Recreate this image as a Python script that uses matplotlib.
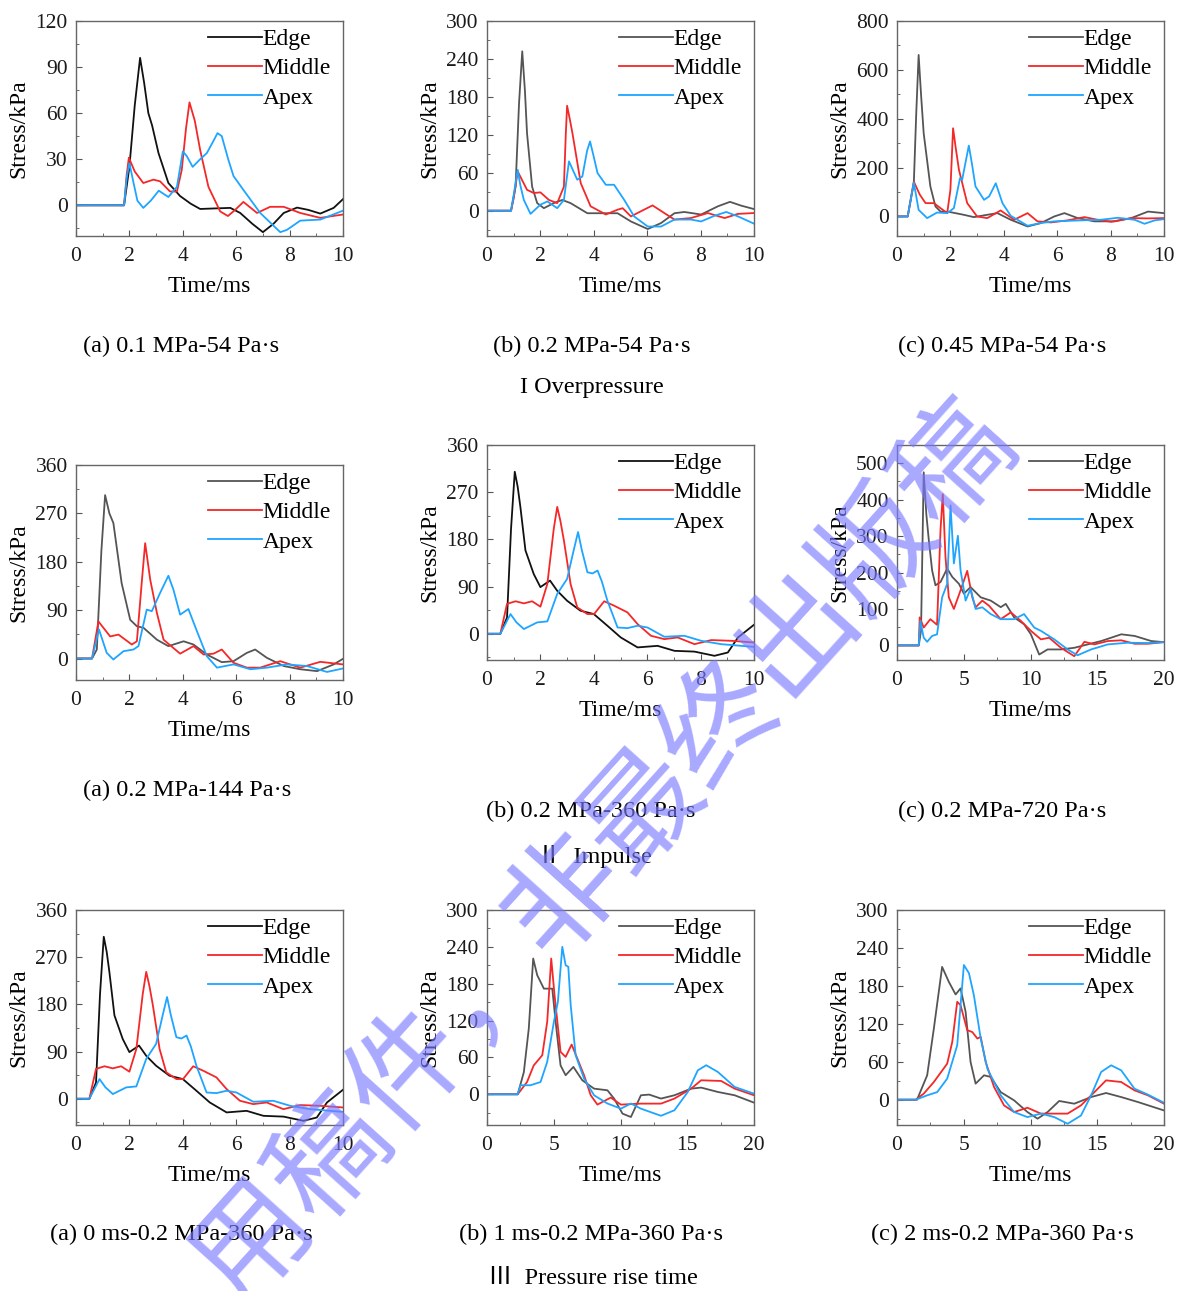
import matplotlib
matplotlib.use("Agg")
import matplotlib.pyplot as plt
from matplotlib.ticker import MultipleLocator

plt.rcParams['font.family'] = ['Liberation Serif', 'Noto Sans CJK SC', 'DejaVu Sans']

labels = ["Edge", "Middle", "Apex"]

# (time ms, stress kPa)
p1_edge = [(0,0),(1.8,0),(2.0,25),(2.2,65),(2.4,96),(2.55,80),(2.71,60),(2.85,52),(3.09,34),(3.46,14.5),(3.9,6),(4.3,1),(4.65,-2.4),(5.27,-2),(5.78,-1.7),(6.15,-5),(6.6,-12),(7.0,-17.5),(7.4,-12),(7.78,-5),(8.28,-1.5),(8.7,-3),(9.15,-5.4),(9.65,-1.7),(10,4)]
p1_middle = [(0,0),(1.8,0),(1.9,20),(1.98,31),(2.2,22),(2.52,14.5),(2.9,16.7),(3.15,15.6),(3.52,9),(3.78,9),(3.96,23),(4.12,50),(4.25,67),(4.45,55),(4.65,36),(4.96,12),(5.4,-4),(5.69,-7),(5.96,-3),(6.27,2.2),(6.78,-5),(7.27,-1),(7.78,-1),(8.4,-5),(9.15,-8.2),(10,-6)]
p1_apex = [(0,0),(1.8,0),(1.9,18),(2.0,27.5),(2.15,15),(2.3,3),(2.52,-1.7),(2.8,3),(3.1,9.5),(3.46,5.4),(3.78,12),(4.0,35),(4.15,32),(4.37,25),(4.65,30),(4.9,34),(5.15,42),(5.3,47),(5.46,45),(5.7,30),(5.9,19),(6.27,10),(6.9,-5),(7.65,-17.5),(7.9,-16),(8.4,-10),(9.15,-9.3),(10,-3.5)]

p2_edge = [(0,0),(0.9,0),(1.07,38),(1.2,170),(1.32,252),(1.42,190),(1.5,122),(1.69,38),(1.88,12),(2.13,4),(2.5,12),(2.82,17),(3.13,12),(3.76,-4),(4.51,-4),(4.89,-4),(5.39,-17),(6.02,-29),(6.52,-19.5),(7.02,-4),(7.39,-2),(8.02,-6),(8.65,7),(9.1,14),(9.52,8),(10,2.6)]
p2_middle = [(0,0),(0.9,0),(1.0,20),(1.15,62),(1.5,33),(1.75,28),(2.0,29),(2.32,17),(2.63,12),(2.88,38),(2.95,120),(3.0,166),(3.1,145),(3.2,122.6),(3.51,43.7),(3.88,7),(4.45,-6),(4.89,1.6),(5.08,4),(5.39,-9),(5.76,-1),(6.2,8.4),(6.64,-3.7),(7.02,-14),(7.64,-11.6),(8.27,-3.7),(8.9,-11.6),(9.4,-5),(10,-3.7)]
p2_apex = [(0,0),(0.9,0),(1.0,25),(1.15,64.7),(1.25,40),(1.38,17),(1.63,-5),(2.0,9.5),(2.26,14.7),(2.63,4),(2.88,17),(3.07,78),(3.38,49),(3.57,54),(3.75,95),(3.86,109.5),(4.0,85),(4.14,59.5),(4.45,41),(4.76,41),(5.14,17),(5.51,-9),(6.02,-25),(6.52,-25),(7.02,-14),(7.64,-14),(8.02,-17),(8.52,-8),(8.96,-2),(9.4,-9),(10,-20.5)]

p3_edge = [(0,0),(0.4,0),(0.63,136),(0.72,420),(0.81,661),(0.9,500),(1.0,340),(1.25,122.6),(1.44,41),(1.63,20),(2.0,17.7),(2.5,6.8),(2.88,-2.7),(3.38,6.8),(3.76,13.6),(4.26,-13.6),(4.89,-41),(5.39,-27),(5.89,0),(6.27,13.6),(6.77,-6.8),(7.39,-20),(8.15,-20),(8.77,-6.8),(9.4,20),(10,13.6)]
p3_middle = [(0,0),(0.4,0),(0.63,143),(0.85,90),(1.07,54.5),(1.38,54.5),(1.63,34),(1.88,13.6),(2.0,109),(2.1,361),(2.2,280),(2.32,191),(2.63,54.5),(3.0,0),(3.38,-6.8),(3.88,24.5),(4.39,-13.6),(4.89,13.6),(5.26,-20),(5.76,-24.5),(6.39,-16),(7.02,-2.7),(7.52,-13.6),(8.02,-21.8),(8.77,-6.8),(9.4,-8),(10,-6.8)]
p3_apex = [(0,0),(0.4,0),(0.63,139),(0.81,27),(1.13,-6.8),(1.5,16),(1.88,13.6),(2.13,34),(2.36,156.7),(2.44,150),(2.69,290),(2.8,220),(2.94,122.6),(3.26,68),(3.45,82),(3.7,136),(3.95,54.5),(4.26,2.7),(4.89,-38),(5.39,-27),(5.89,-20),(6.89,-16),(7.64,-13.6),(8.27,-5.4),(8.9,-13.6),(9.27,-30),(9.65,-16),(10,-11)]

p4_edge = [(0,0),(0.6,0),(0.78,16.7),(0.95,200),(1.09,304),(1.25,270),(1.4,252),(1.71,140),(2.03,72),(2.28,60),(2.53,57),(3.03,35),(3.46,23),(4.03,32),(4.4,26),(4.9,7.4),(5.46,-6.8),(5.9,-5),(6.4,10.5),(6.71,16.7),(7.15,1.2),(7.78,-14),(8.4,-20),(9.03,-23.5),(9.65,-11),(10,-0.6)]
p4_middle = [(0,0),(0.6,0),(0.84,69),(1.28,41),(1.59,44.5),(2.09,26),(2.28,32),(2.46,140),(2.59,214.6),(2.78,146.6),(3.03,84.7),(3.28,35),(3.9,9),(4.4,23),(4.78,7.4),(5.15,9),(5.46,16.7),(5.9,-8),(6.4,-17),(6.9,-17),(7.65,-5),(8.4,-17),(9.15,-6.2),(10,-11)]
p4_apex = [(0,0),(0.6,0),(0.86,54),(1.15,10.5),(1.4,-1.9),(1.78,13.6),(2.15,16.7),(2.34,23),(2.65,91),(2.84,88),(3.15,122),(3.46,154),(3.65,128),(3.9,81.6),(4.21,92),(4.53,50.7),(4.9,4.3),(5.28,-17),(5.9,-11),(6.53,-20),(7.15,-17),(7.9,-11),(8.65,-14),(9.4,-25),(10,-18.5)]

# 0.2 MPa-360 Pa·s, shown twice (II b and III a)
p5_edge = [(0,0),(0.5,0),(0.75,31),(0.9,200),(1.04,309),(1.15,280),(1.25,242),(1.44,159),(1.75,114),(2.0,89),(2.36,101.5),(2.63,82),(3.0,63),(3.5,44),(4.0,37.6),(4.51,15.3),(5.01,-7),(5.64,-26),(6.39,-23),(7.02,-32.5),(7.77,-34),(8.52,-42),(9.02,-35.7),(9.4,-7),(10,17.2)]
p5_middle = [(0,0),(0.5,0),(0.75,57),(1.07,62),(1.38,58),(1.69,62),(2.0,51.7),(2.26,95),(2.5,200),(2.63,242),(2.75,215),(2.88,178),(3.13,95),(3.38,50.4),(3.76,37.6),(4.01,37.6),(4.39,62),(4.76,53.6),(5.26,40.8),(5.64,18.5),(6.14,-3.8),(6.64,-10.2),(7.14,-7),(7.77,-19.8),(8.4,-12),(9.15,-13.4),(10,-16.6)]
p5_apex = [(0,0),(0.5,0),(0.88,37.6),(1.1,22),(1.38,9),(1.88,21.7),(2.26,23.6),(2.63,76),(3.0,104.7),(3.25,160),(3.41,194),(3.55,160),(3.76,117.4),(3.95,115),(4.14,120.6),(4.3,100),(4.51,63),(4.89,12),(5.26,10.8),(5.64,15.3),(6.01,12),(6.64,-5.7),(7.39,-3.8),(8.02,-13.4),(8.77,-19.8),(10,-25)]

p6_edge = [(0,0),(1.63,0),(1.8,40),(2.0,475),(2.2,359),(2.38,290),(2.63,206),(2.88,165),(3.26,174),(3.76,211),(4.14,188),(4.64,169),(5.01,142),(5.51,160),(6.27,132),(7.02,123),(7.77,105),(8.15,114),(8.77,77),(9.52,58),(10.03,30.5),(10.65,-25),(11.28,-11),(12.28,-11),(13.28,-6.5),(14.29,2.8),(15.29,12),(16.8,30.5),(17.8,26),(19.05,12),(20,9)]
p6_middle = [(0,0),(1.63,0),(1.7,77),(2.0,49),(2.5,72),(3.0,56.5),(3.26,317.6),(3.43,415),(3.63,243.5),(3.88,132),(4.26,100),(4.76,151),(5.26,204.6),(5.64,132),(5.89,104.6),(6.39,123),(6.89,109),(7.77,72),(8.52,90.7),(9.27,67.6),(10.03,40),(10.78,16.7),(11.4,21),(12.28,-6.5),(13.28,-29.6),(14.04,10),(14.79,2.8),(15.79,12),(16.8,14),(17.8,4.6),(18.8,4.6),(20,9)]
p6_apex = [(0,0),(1.63,0),(1.75,67.6),(2.0,21.3),(2.26,10),(2.63,26),(3.0,30.5),(3.38,132),(3.76,169),(4.01,384),(4.26,225),(4.56,301),(4.76,206.5),(5.14,123),(5.51,155.5),(5.89,100),(6.39,104.6),(7.02,86),(7.77,72),(8.77,72),(9.52,86),(10.28,49),(10.78,40),(11.78,16.7),(12.78,-11),(13.53,-27),(14.54,-11),(15.79,2.8),(17.29,7.4),(18.8,6.5),(20,9)]

p8_edge = [(0,0),(2.3,0),(2.76,36),(3.13,107),(3.46,221),(3.76,194),(4.26,172),(4.89,172),(5.14,118),(5.51,47),(5.89,31),(6.47,44.6),(7.14,22.8),(8.02,9.2),(9.02,6.5),(9.52,-7),(10.15,-31.5),(10.78,-37),(11.53,-1.6),(12.15,-0.5),(13.03,-7),(14.04,-1.6),(15.29,9.2),(16.04,10.9),(17.29,3.8),(18.55,-1.6),(20,-13.6)]
p8_middle = [(0,0),(2.3,0),(3.0,20),(3.5,47),(4.14,63.6),(4.51,118),(4.81,221),(5.06,161.4),(5.51,69),(5.89,60.9),(6.34,81),(6.77,58),(7.27,31),(7.77,-1.6),(8.27,-16.8),(9.27,-5.4),(10.03,-16.8),(11.53,-15.2),(13.03,-15.2),(14.04,-7),(15.29,9.2),(16.04,22.8),(17.54,21.7),(18.55,9.2),(20,-1.6)]
p8_apex = [(0,0),(2.3,0),(2.51,14.7),(3.26,14.7),(4.01,20),(4.51,52.7),(5.01,118),(5.31,150.5),(5.64,240),(5.89,210),(6.09,207.6),(6.27,145),(6.64,63.6),(7.27,25.5),(8.02,-1.6),(9.02,-15),(10.03,-23.4),(10.78,-15),(11.53,-23.4),(13.03,-35),(14.04,-26),(15.04,3.8),(15.79,39),(16.42,47.3),(17.29,36.4),(18.55,12),(20,1)]

p9_edge = [(0,0),(1.5,0),(2.26,38.6),(2.76,112.5),(3.38,210),(3.88,186.5),(4.39,166.4),(4.76,176),(5.14,139),(5.51,59.7),(5.89,25.4),(6.52,38.6),(7.02,36),(7.77,12),(8.77,-1),(9.77,-19.5),(10.53,-30),(11.28,-19.5),(12.15,-2),(13.28,-6.3),(14.54,4.2),(15.66,10.6),(16.79,4.2),(18.05,-3.7),(20,-17)]
p9_middle = [(0,0),(1.4,0),(2.0,9.5),(2.76,28),(3.76,57),(4.14,91.4),(4.51,154.8),(4.76,149.5),(5.26,110),(5.64,107),(6.02,96.7),(6.27,99.3),(6.64,59.7),(7.27,20),(8.02,-9),(8.77,-19.5),(9.77,-12.7),(10.78,-22),(11.78,-22),(12.78,-22),(13.78,-9),(14.79,12),(15.66,30.6),(16.79,28),(17.79,14.8),(18.8,6.9),(20,-6.3)]
p9_apex = [(0,0),(1.4,0),(2.26,6.9),(3.01,12),(3.76,33.3),(4.51,86),(5.01,213),(5.39,200),(5.76,165),(6.27,96.7),(6.77,49),(7.77,6.9),(8.77,-19.5),(9.77,-27.5),(10.78,-22),(11.78,-27.5),(12.78,-38),(13.78,-25),(14.54,6.9),(15.29,43.8),(16.04,54.4),(16.79,46.5),(17.79,17.4),(18.8,8),(20,-4.8)]

captions = ["(a) 0.1 MPa-54 Pa·s", "(b) 0.2 MPa-54 Pa·s", "(c) 0.45 MPa-54 Pa·s",
            "(a) 0.2 MPa-144 Pa·s", "(b) 0.2 MPa-360 Pa·s", "(c) 0.2 MPa-720 Pa·s",
            "(a) 0 ms-0.2 MPa-360 Pa·s", "(b) 1 ms-0.2 MPa-360 Pa·s", "(c) 2 ms-0.2 MPa-360 Pa·s"]
groups = ["I Overpressure", "Ⅱ  Impulse", "Ⅲ  Pressure rise time"]

BLACK, GRAY, RED, BLUE = "#111111", "#555555", "#f42828", "#1ea5ff"
W, H = 1177, 1291

# panel: curves, edge colour, axes box in px (left, top), xmax, xstep, ylim, ystep
panels = [
    ((p1_edge, p1_middle, p1_apex), BLACK, (76, 21), 10, 2, (-20, 120), 30),
    ((p2_edge, p2_middle, p2_apex), GRAY, (487, 21), 10, 2, (-40, 300), 60),
    ((p3_edge, p3_middle, p3_apex), GRAY, (897, 21), 10, 2, (-80, 800), 200),
    ((p4_edge, p4_middle, p4_apex), GRAY, (76, 465), 10, 2, (-40, 360), 90),
    ((p5_edge, p5_middle, p5_apex), BLACK, (487, 445), 10, 2, (-50, 360), 90),
    ((p6_edge, p6_middle, p6_apex), GRAY, (897, 445), 20, 5, (-40, 550), 100),
    ((p5_edge, p5_middle, p5_apex), BLACK, (76, 910), 10, 2, (-50, 360), 90),
    ((p8_edge, p8_middle, p8_apex), GRAY, (487, 910), 20, 5, (-50, 300), 60),
    ((p9_edge, p9_middle, p9_apex), GRAY, (897, 910), 20, 5, (-40, 300), 60),
]
cap_pos = [(181, 346), (592, 346), (1002, 346),
           (187, 790), (591, 811), (1002, 811),
           (181, 1234), (591, 1234), (1002, 1234)]
group_pos = [(592, 388), (594, 856), (593, 1278)]

fig = plt.figure(figsize=(W / 100, H / 100), dpi=100)

for i, (curves, ecol, (lx, ty), xmax, xstep, ylim, ystep) in enumerate(panels):
    ax = fig.add_axes([lx / W, 1 - (ty + 215) / H, 267 / W, 215 / H])
    for pts, col, lab in zip(curves, (ecol, RED, BLUE), labels):
        t = [p[0] for p in pts]
        s = [p[1] for p in pts]
        ax.plot(t, s, color=col, lw=1.3, label=lab, solid_joinstyle="round")
    ax.set_xlim(0, xmax)
    ax.set_ylim(*ylim)
    ax.xaxis.set_major_locator(MultipleLocator(xstep))
    ax.xaxis.set_minor_locator(MultipleLocator(xstep / 2))
    ax.yaxis.set_major_locator(MultipleLocator(ystep))
    ax.yaxis.set_minor_locator(MultipleLocator(ystep / 2))
    ax.tick_params(which="both", direction="in", colors="#555555", labelcolor="#1a1a1a",
                   labelsize=15.5)
    ax.tick_params(which="major", length=4, pad=6)
    ax.tick_params(axis="x", which="major", pad=8)
    ax.tick_params(which="minor", length=2.5)
    for sp in ax.spines.values():
        sp.set_color("#666666")
        sp.set_linewidth(1.0)
    ax.set_xlabel("Time/ms", fontsize=17, labelpad=7)
    ax.set_ylabel("Stress/kPa", fontsize=17, labelpad=4)
    ax.legend(loc="upper left", bbox_to_anchor=(0.495, 0.965), frameon=False,
              fontsize=17, handlelength=2.3, handletextpad=0.0,
              labelspacing=0.33, borderpad=0, borderaxespad=0)
    cx, cy = cap_pos[i]
    fig.text(cx / W, 1 - cy / H, captions[i], ha="center", va="center", fontsize=17.5)

for g, (gx, gy) in zip(groups, group_pos):
    fig.text(gx / W, 1 - gy / H, g, ha="center", va="center", fontsize=17.5)

# watermark
fig.text(605 / W, 1 - 855 / H, "用稿件，非最终出版稿", ha="center", va="center",
         rotation=48, fontsize=84, color="#7a7aff", alpha=0.65,
         family=["Noto Sans CJK SC"], zorder=10)

fig.savefig("out.png", dpi=100)
